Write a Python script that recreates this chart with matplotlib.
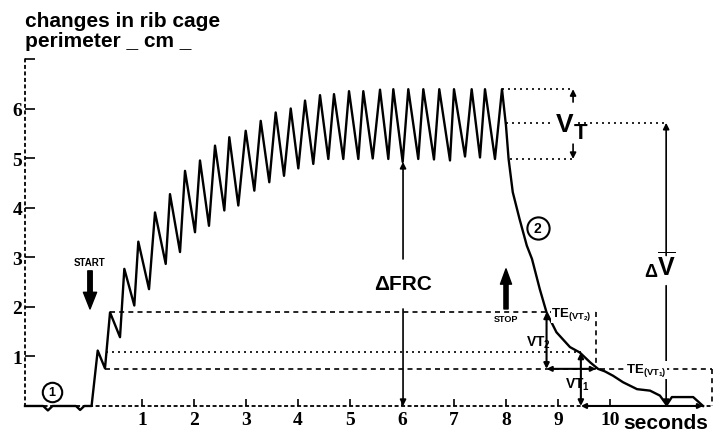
import numpy as np
import matplotlib
matplotlib.use("Agg")
import matplotlib.pyplot as plt

plt.rcParams['font.family'] = ['Liberation Sans', 'DejaVu Sans']
plt.rcParams['mathtext.default'] = 'regular'

# trace: time (s) and change of rib cage perimeter (cm)
base_t = [-1.25, -0.90, -0.81, -0.72, -0.27, -0.19, -0.11, 0.03]
base_v = [0.0, 0.0, -0.09, 0.0, 0.0, -0.08, 0.0, 0.0]

peak_t = [0.148, 0.385, 0.660, 0.929, 1.250, 1.538, 1.827, 2.115, 2.404, 2.679,
          2.994, 3.283, 3.571, 3.860, 4.135, 4.423, 4.692, 4.981, 5.256, 5.577,
          5.833, 6.121, 6.410, 6.717, 7.000, 7.340, 7.596, 7.923]
peak_v = [1.12, 1.89, 2.77, 3.32, 3.91, 4.28, 4.75, 4.96, 5.26, 5.43,
          5.56, 5.76, 5.93, 6.01, 6.17, 6.28, 6.30, 6.36, 6.36, 6.39,
          6.40, 6.40, 6.40, 6.40, 6.40, 6.40, 6.40, 6.40]
trough_t = [0.288, 0.577, 0.852, 1.135, 1.456, 1.731, 2.019, 2.288, 2.583, 2.852,
            3.160, 3.448, 3.731, 4.006, 4.294, 4.583, 4.871, 5.160, 5.437, 5.737,
            6.013, 6.313, 6.615, 6.923, 7.212, 7.500, 7.788]
trough_v = [0.76, 1.39, 2.03, 2.36, 2.87, 3.11, 3.51, 3.64, 3.95, 4.05,
            4.35, 4.52, 4.65, 4.80, 4.89, 4.99, 4.99, 4.99, 5.00, 4.99,
            4.93, 4.99, 4.98, 4.96, 5.04, 5.02, 4.99]

decay_t = [8.00, 8.05, 8.13, 8.26, 8.40, 8.50, 8.65, 8.78, 8.97, 9.23, 9.42,
           9.62, 9.77, 9.90, 10.06, 10.25, 10.52, 10.77, 10.96, 11.09, 11.19,
           11.60, 11.79]
decay_v = [5.66, 4.99, 4.32, 3.78, 3.24, 2.97, 2.36, 1.89, 1.49, 1.19, 1.08,
           0.88, 0.75, 0.70, 0.61, 0.48, 0.34, 0.31, 0.21, 0.02, 0.18,
           0.18, 0.0]

# reference levels / markers
vt_top, vt_mid, vt_bot = 6.40, 5.72, 4.99
lvl_hi, lvl_mid, lvl_lo = 1.89, 1.10, 0.75
t_frc, t_dv, t_vt = 6.02, 11.08, 9.29
t_vt2, t_te2 = 8.78, 9.73
t_vt1, t_te1, v_vt1 = 9.44, 11.79, 1.08
t_end = 11.96

xticks = list(range(1, 11))
yticks = list(range(1, 8))
ylabels = ['1', '2', '3', '4', '5', '6', '']

# build the full trace
cyc_t, cyc_v = [], []
for i in range(len(trough_t)):
    cyc_t += [peak_t[i], trough_t[i]]
    cyc_v += [peak_v[i], trough_v[i]]
cyc_t.append(peak_t[-1])
cyc_v.append(peak_v[-1])
t = np.array(base_t + cyc_t + decay_t)
v = np.array(base_v + cyc_v + decay_v)

fig = plt.figure(figsize=(7.13, 4.35), dpi=100)
ax = fig.add_axes([0, 0, 1, 1])
ax.set_xlim(-1.731, 11.981)
ax.set_ylim(-0.566, 8.222)

dot = (0, (1.2, 2.4))
dash = (0, (3, 2.5))

for s in ['top', 'right']:
    ax.spines[s].set_visible(False)
ax.spines['left'].set_position(('data', -1.25))
ax.spines['left'].set_bounds(0, 7)
ax.spines['bottom'].set_position(('data', 0))
ax.spines['bottom'].set_bounds(-1.25, t_end)
for s in ['left', 'bottom']:
    ax.spines[s].set_linestyle(dot)
    ax.spines[s].set_linewidth(1.3)

ax.set_xticks(xticks)
ax.set_xticklabels([str(i) for i in xticks], fontfamily='Liberation Serif',
                   fontweight='bold', fontsize=14)
ax.set_yticks(yticks)
ax.set_yticklabels(ylabels, fontfamily='Liberation Serif', fontweight='bold',
                   fontsize=14)
ax.tick_params(axis='x', direction='in', length=5, width=1.2, pad=3.5)
ax.tick_params(axis='y', direction='in', length=7, width=1.2, pad=2)

# the trace
ax.plot(t, v, color='black', lw=1.7, solid_joinstyle='round', zorder=3)

# helper lines
k = dict(color='black', lw=1.2)
ax.plot([peak_t[1], t_te2], [lvl_hi, lvl_hi], ls=dash, **k)
ax.plot([0.30, t_vt1], [lvl_mid, lvl_mid], ls=dot, **k)
ax.plot([trough_t[0], t_end], [lvl_lo, lvl_lo], ls=dash, **k)
ax.plot([t_te2, t_te2], [lvl_hi, lvl_lo], ls=dash, **k)
ax.plot([t_end, t_end], [lvl_lo, 0], ls=dash, **k)
ax.plot([peak_t[-1], t_vt], [vt_top, vt_top], ls=dot, **k)
ax.plot([8.0, t_dv], [vt_mid, vt_mid], ls=dot, **k)
ax.plot([8.08, t_vt], [vt_bot, vt_bot], ls=dot, **k)


def arrow(x0, y0, x1, y1, style='-|>', ms=9, lw=1.2):
    ax.annotate('', xy=(x1, y1), xytext=(x0, y0),
                arrowprops=dict(arrowstyle=style, color='black', lw=lw,
                                mutation_scale=ms, shrinkA=0, shrinkB=0))


arrow(t_frc, 2.97, t_frc, trough_v[20])
arrow(t_frc, 1.96, t_frc, 0)
arrow(t_dv, 3.04, t_dv, vt_mid)
arrow(t_dv, 2.43, t_dv, 0)
arrow(t_vt, 6.14, t_vt, vt_top)
arrow(t_vt, 5.29, t_vt, vt_bot)
arrow(t_vt2, lvl_lo, t_vt2, lvl_hi, style='<|-|>', ms=8, lw=1.5)
arrow(t_vt2, lvl_lo, t_te2, lvl_lo, style='<|-|>', ms=7, lw=1.5)
arrow(t_vt1, 0, t_vt1, v_vt1, style='<|-|>', ms=8, lw=1.5)
arrow(t_vt1, 0, t_te1, 0, style='<|-|>', ms=7, lw=1.5)

# START / STOP arrows
ax.annotate('', xy=(0.0, 1.96), xytext=(0.0, 2.73),
            arrowprops=dict(facecolor='black', edgecolor='black', width=3.2,
                            headwidth=9.5, headlength=12, shrink=0))
ax.text(0.0, 2.90, 'START', ha='center', va='center', fontsize=7, fontweight='bold')
ax.annotate('', xy=(8.0, 2.77), xytext=(8.0, 1.96),
            arrowprops=dict(facecolor='black', edgecolor='black', width=3,
                            headwidth=8, headlength=11, shrink=0))
ax.text(8.0, 1.76, 'STOP', ha='center', va='center', fontsize=6.5, fontweight='bold')

# circled numbers
ax.plot([-0.73], [0.28], 'o', ms=14, mfc='white', mec='black', mew=1.5, zorder=4)
ax.text(-0.73, 0.28, '1', ha='center', va='center', fontsize=9, fontweight='bold', zorder=5)
ax.plot([8.61], [3.60], 'o', ms=16, mfc='white', mec='black', mew=1.5, zorder=4)
ax.text(8.61, 3.60, '2', ha='center', va='center', fontsize=10, fontweight='bold', zorder=5)

wb = dict(facecolor='white', edgecolor='none', pad=0.5)
ax.text(t_frc, 2.48, 'ΔFRC', ha='center', va='center', fontsize=15,
        fontweight='bold')
ax.text(10.90, 2.72, 'Δ', ha='right', va='center', fontsize=13, fontweight='bold')
ax.text(t_dv, 2.85, r'$\overline{V}$', ha='center', va='center', fontsize=18,
        fontweight='bold')
ax.text(9.13, 5.70, 'V', ha='center', va='center', fontsize=19,
        fontweight='bold', bbox=dict(facecolor='white', edgecolor='none', pad=2), zorder=4)
ax.text(9.43, 5.53, 'T', ha='center', va='center', fontsize=16,
        fontweight='bold', zorder=5)
ax.text(8.87, 1.86, r'TE$_{(VT_2)}$', ha='left', va='center', fontsize=9.5,
        fontweight='bold', bbox=wb, zorder=4)
ax.text(8.62, 1.29, r'VT$_2$', ha='center', va='center', fontsize=10,
        fontweight='bold')
ax.text(9.37, 0.44, r'VT$_1$', ha='center', va='center', fontsize=10,
        fontweight='bold')
ax.text(10.30, 0.73, r'TE$_{(VT_1)}$', ha='left', va='center', fontsize=9.5,
        fontweight='bold', bbox=wb, zorder=4)
ax.text(10.25, -0.34, 'seconds', ha='left', va='center', fontsize=15,
        fontweight='bold')

fig.text(25 / 713, 1 - 27 / 435, 'changes in rib cage', ha='left',
         va='baseline', fontsize=15, fontweight='bold')
fig.text(25 / 713, 1 - 47 / 435, 'perimeter _ cm _', ha='left',
         va='baseline', fontsize=15, fontweight='bold')

fig.savefig('out.png', dpi=100)
